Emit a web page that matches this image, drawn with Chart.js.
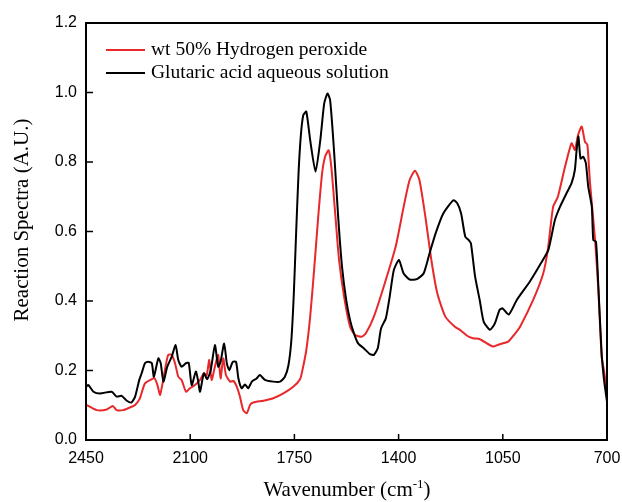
<!DOCTYPE html>
<html>
<head>
<meta charset="utf-8">
<script src="https://cdn.jsdelivr.net/npm/chart.js@4/dist/chart.umd.min.js"></script>
<style>
  body { margin: 0; background: #fff; }
</style>
</head>
<body>
<canvas id="spectraChart" width="622" height="502"></canvas>
<script>
// wavenumbers (cm-1) and absorbance
const wnPeroxide = [2450, 2442, 2414, 2380, 2360, 2347, 2325, 2302, 2285, 2269, 2252, 2229, 2220, 2210, 2201, 2185, 2174, 2162, 2151, 2140, 2129, 2114, 2101, 2084, 2067, 2054, 2045, 2036, 2028, 2017, 2006, 1998, 1989, 1980, 1966, 1955, 1944, 1933, 1922, 1910, 1899, 1888, 1854, 1821, 1787, 1754, 1731, 1723, 1710, 1697, 1683, 1670, 1657, 1647, 1635, 1626, 1613, 1600, 1583, 1563, 1546, 1524, 1510, 1483, 1450, 1410, 1383, 1363, 1345, 1330, 1310, 1290, 1270, 1243, 1210, 1194, 1170, 1150, 1127, 1084, 1063, 1032, 1010, 992, 948, 914, 898, 881, 865, 841, 819, 808, 797, 785, 774, 766, 757, 740, 729, 718, 710, 700];
const peroxide = [0.101, 0.098, 0.086, 0.088, 0.098, 0.086, 0.086, 0.094, 0.101, 0.120, 0.163, 0.175, 0.178, 0.158, 0.130, 0.201, 0.245, 0.245, 0.221, 0.182, 0.173, 0.139, 0.149, 0.158, 0.173, 0.192, 0.185, 0.230, 0.173, 0.211, 0.245, 0.177, 0.235, 0.187, 0.168, 0.170, 0.154, 0.125, 0.086, 0.077, 0.101, 0.108, 0.113, 0.120, 0.134, 0.153, 0.175, 0.201, 0.259, 0.355, 0.498, 0.642, 0.767, 0.815, 0.834, 0.786, 0.652, 0.518, 0.412, 0.326, 0.302, 0.297, 0.307, 0.355, 0.441, 0.556, 0.671, 0.748, 0.775, 0.748, 0.642, 0.518, 0.422, 0.355, 0.325, 0.317, 0.300, 0.293, 0.290, 0.269, 0.275, 0.283, 0.305, 0.326, 0.403, 0.480, 0.552, 0.671, 0.700, 0.786, 0.854, 0.835, 0.878, 0.902, 0.858, 0.850, 0.739, 0.575, 0.432, 0.240, 0.200, 0.134];

const wnGlutaric = [2450, 2442, 2425, 2403, 2364, 2347, 2330, 2313, 2297, 2285, 2271, 2263, 2252, 2241, 2229, 2222, 2207, 2199, 2190, 2177, 2162, 2149, 2140, 2129, 2114, 2105, 2095, 2081, 2073, 2067, 2054, 2043, 2031, 2017, 2006, 1998, 1986, 1977, 1969, 1957, 1946, 1938, 1927, 1916, 1905, 1893, 1877, 1866, 1849, 1821, 1798, 1782, 1770, 1760, 1752, 1744, 1736, 1728, 1720, 1710, 1697, 1679, 1663, 1650, 1639, 1630, 1617, 1603, 1590, 1576, 1563, 1550, 1536, 1517, 1496, 1483, 1470, 1459, 1443, 1430, 1416, 1399, 1383, 1363, 1339, 1316, 1296, 1276, 1250, 1216, 1203, 1190, 1176, 1163, 1157, 1143, 1127, 1114, 1093, 1077, 1061, 1051, 1030, 1003, 959, 925, 897, 875, 858, 836, 819, 808, 802, 796, 789, 780, 771, 763, 751, 746, 737, 729, 718, 710, 700];
const glutaric = [0.153, 0.158, 0.139, 0.134, 0.139, 0.125, 0.127, 0.113, 0.108, 0.125, 0.173, 0.192, 0.221, 0.225, 0.221, 0.182, 0.235, 0.221, 0.168, 0.211, 0.240, 0.273, 0.230, 0.211, 0.221, 0.222, 0.158, 0.197, 0.168, 0.139, 0.192, 0.175, 0.201, 0.273, 0.211, 0.225, 0.278, 0.221, 0.201, 0.225, 0.225, 0.177, 0.149, 0.160, 0.149, 0.168, 0.177, 0.187, 0.173, 0.168, 0.168, 0.182, 0.215, 0.290, 0.420, 0.600, 0.770, 0.880, 0.935, 0.945, 0.863, 0.772, 0.863, 0.968, 0.997, 0.978, 0.834, 0.642, 0.498, 0.403, 0.345, 0.307, 0.278, 0.264, 0.247, 0.245, 0.264, 0.321, 0.350, 0.412, 0.489, 0.518, 0.479, 0.462, 0.463, 0.479, 0.537, 0.594, 0.652, 0.690, 0.681, 0.652, 0.585, 0.574, 0.566, 0.470, 0.400, 0.340, 0.317, 0.335, 0.374, 0.379, 0.361, 0.403, 0.456, 0.504, 0.547, 0.633, 0.671, 0.710, 0.739, 0.777, 0.835, 0.873, 0.810, 0.815, 0.797, 0.729, 0.671, 0.575, 0.571, 0.441, 0.249, 0.173, 0.110];

const seriesLabels = ["wt 50% Hydrogen peroxide", "Glutaric acid aqueous solution"];
const xTicks = [2450, 2100, 1750, 1400, 1050, 700];
const yTicks = [0, 0.2, 0.4, 0.6, 0.8, 1.0, 1.2];

const toPoints = (xs, ys) => xs.map((x, i) => ({ x: x, y: ys[i] }));

const serif = '"Liberation Serif", "Times New Roman", serif';
const sans = '"Liberation Sans", Arial, sans-serif';

// box, inward ticks, axis titles and the legend
const framePlugin = {
  id: "frame",
  afterDraw(chart) {
    const { ctx, chartArea: a, scales } = chart;
    ctx.save();
    ctx.strokeStyle = "#000";
    ctx.lineWidth = 2;
    ctx.strokeRect(a.left, a.top, a.right - a.left, a.bottom - a.top);

    ctx.lineWidth = 1.5;
    ctx.beginPath();
    xTicks.forEach((t) => {
      const px = scales.x.getPixelForValue(t);
      ctx.moveTo(px, a.bottom);
      ctx.lineTo(px, a.bottom - 6);
    });
    yTicks.forEach((t) => {
      const py = scales.y.getPixelForValue(t);
      ctx.moveTo(a.left, py);
      ctx.lineTo(a.left + 7, py);
    });
    ctx.stroke();

    ctx.fillStyle = "#000";
    // y title
    ctx.save();
    ctx.translate(22, 220);
    ctx.rotate(-Math.PI / 2);
    ctx.font = "21px " + serif;
    ctx.textAlign = "center";
    ctx.textBaseline = "middle";
    ctx.fillText("Reaction Spectra (A.U.)", 0, 0);
    ctx.restore();

    // x title with superscript
    const main = "Wavenumber (cm";
    const sup = "-1";
    const end = ")";
    ctx.textBaseline = "alphabetic";
    ctx.textAlign = "left";
    ctx.font = "21px " + serif;
    const wMain = ctx.measureText(main).width;
    const wEnd = ctx.measureText(end).width;
    ctx.font = "13px " + serif;
    const wSup = ctx.measureText(sup).width;
    let x0 = 347 - (wMain + wSup + wEnd) / 2;
    const base = 496;
    ctx.font = "21px " + serif;
    ctx.fillText(main, x0, base);
    ctx.font = "13px " + serif;
    ctx.fillText(sup, x0 + wMain, base - 8);
    ctx.font = "21px " + serif;
    ctx.fillText(end, x0 + wMain + wSup, base);

    // legend
    ctx.font = "19.5px " + serif;
    ctx.textBaseline = "middle";
    chart.data.datasets.forEach((ds, i) => {
      const ly = 50 + i * 23;
      ctx.strokeStyle = ds.borderColor;
      ctx.lineWidth = 2;
      ctx.beginPath();
      ctx.moveTo(106, ly);
      ctx.lineTo(145, ly);
      ctx.stroke();
      ctx.fillText(ds.label, 151, ly);
    });
    ctx.restore();
  },
};

const ctx = document.getElementById("spectraChart");

new Chart(ctx, {
  type: "line",
  data: {
    datasets: [
      {
        label: seriesLabels[0],
        data: toPoints(wnPeroxide, peroxide),
        borderColor: "#e8282a",
        borderWidth: 2,
        pointRadius: 0,
        tension: 0.2,
        order: 1,
      },
      {
        label: seriesLabels[1],
        data: toPoints(wnGlutaric, glutaric),
        borderColor: "#000000",
        borderWidth: 2,
        pointRadius: 0,
        tension: 0.2,
        order: 0,
      },
    ],
  },
  options: {
    responsive: false,
    animation: false,
    layout: { padding: { left: 0, top: 23, right: 15, bottom: 0 } },
    plugins: {
      legend: { display: false },
      tooltip: { enabled: false },
    },
    scales: {
      x: {
        type: "linear",
        reverse: true,
        min: 700,
        max: 2450,
        afterBuildTicks: (scale) => {
          scale.ticks = xTicks.map((v) => ({ value: v }));
        },
        afterFit: (scale) => {
          scale.height = 62;
          scale.paddingLeft = 0;
          scale.paddingRight = 0;
        },
        grid: { display: false, drawTicks: false },
        border: { display: false },
        ticks: {
          color: "#000",
          padding: 9,
          maxRotation: 0,
          font: { family: sans, size: 16 },
          callback: (v) => String(v),
        },
      },
      y: {
        min: 0,
        max: 1.2,
        afterBuildTicks: (scale) => {
          scale.ticks = yTicks.map((v) => ({ value: v }));
        },
        afterFit: (scale) => {
          scale.width = 86;
          scale.paddingTop = 0;
          scale.paddingBottom = 0;
        },
        grid: { display: false, drawTicks: false },
        border: { display: false },
        ticks: {
          color: "#000",
          padding: 9,
          font: { family: sans, size: 16 },
          callback: (v) => v.toFixed(1),
        },
      },
    },
  },
  plugins: [framePlugin],
});
</script>
</body>
</html>
